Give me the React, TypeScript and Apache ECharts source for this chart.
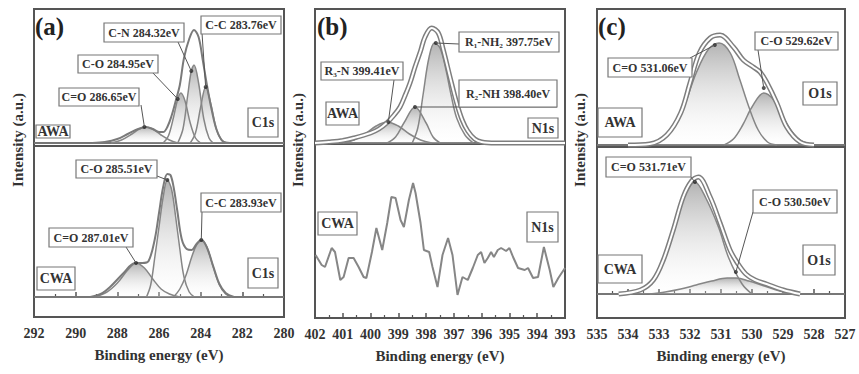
import React, { useEffect, useRef } from "react";
import * as echarts from "echarts";

type Pt = [number, number];

// ---------- axis ranges (binding energy, eV) ----------
const c1sRange: [number, number] = [280, 292];
const n1sRange: [number, number] = [393, 402];
const o1sRange: [number, number] = [527, 535];
const c1sInterval = 2;
const n1sInterval = 1;
const o1sInterval = 1;

// ---------- (a) C1s, AWA ----------
const c1sAwaEnvelope: Pt[] = [[289.2,0],[288.6,1],[288.0,4],[287.5,9],[287.0,14],[286.65,16],[286.3,14],[286.0,11],[285.8,11],[285.6,16],[285.4,27],[285.2,42],[285.0,58],[284.8,85],[284.55,104],[284.32,113],[284.1,106],[283.9,83],[283.7,58],[283.47,33],[283.23,13],[282.95,2],[282.6,0]];
const c1sAwaCdO: Pt[] = [[288.3,0],[287.8,3],[287.3,9],[286.95,14],[286.65,16],[286.3,14],[285.9,8],[285.5,3],[285.1,0]];
const c1sAwaCO: Pt[] = [[285.8,0],[285.55,7],[285.3,26],[285.1,44],[284.95,50],[284.75,42],[284.5,20],[284.25,5],[284.0,0]];
const c1sAwaCN: Pt[] = [[285.1,0],[284.85,14],[284.62,48],[284.45,72],[284.32,78],[284.1,60],[283.85,24],[283.6,5],[283.4,0]];
const c1sAwaCC: Pt[] = [[284.5,0],[284.25,10],[284.0,36],[283.76,56],[283.5,38],[283.25,14],[283.0,3],[282.75,0]];
const c1sAwaDots: Pt[] = [[286.7,16],[285.1,44],[284.45,72],[283.76,56]];

// ---------- (a) C1s, CWA ----------
const c1sCwaEnvelope: Pt[] = [[289.3,0],[288.8,3],[288.35,10],[287.7,24],[287.15,34],[286.8,34],[286.5,36],[286.2,58],[286.0,84],[285.8,110],[285.6,123],[285.45,122],[285.3,110],[285.12,86],[284.91,58],[284.67,48],[284.43,47],[284.2,53],[283.97,57],[283.71,50],[283.4,31],[283.1,13],[282.8,4],[282.4,0]];
const c1sCwaCdO: Pt[] = [[289.1,0],[288.5,5],[288.0,14],[287.5,27],[287.1,34],[286.7,29],[286.3,18],[285.9,8],[285.5,3],[285.0,0]];
const c1sCwaCO: Pt[] = [[286.6,0],[286.4,12],[286.2,40],[286.0,70],[285.8,100],[285.6,117],[285.4,108],[285.2,80],[285.0,48],[284.8,20],[284.55,5],[284.3,0]];
const c1sCwaCC: Pt[] = [[285.3,0],[285.0,8],[284.7,22],[284.43,40],[284.2,52],[283.95,57],[283.7,50],[283.4,30],[283.1,12],[282.8,3],[282.5,0]];
const c1sCwaDots: Pt[] = [[287.1,34],[285.6,117],[283.97,57]];

// ---------- (b) N1s, AWA ----------
const n1sAwaEnvelope: Pt[] = [[402,0],[401.5,1],[401.0,2.5],[400.6,5],[400.0,10],[399.7,14],[399.42,20],[399.15,28],[398.94,36],[398.75,48],[398.58,60],[398.4,76],[398.2,92],[398.04,106],[397.8,115],[397.56,110],[397.38,93],[397.14,66],[396.9,40],[396.7,23],[396.5,12],[396.25,4],[396.0,1],[395.5,0],[393,0]];
const n1sAwaR1: Pt[] = [[398.5,0],[398.3,15],[398.1,50],[397.9,85],[397.7,100],[397.5,95],[397.3,75],[397.1,48],[396.9,25],[396.6,8],[396.3,0]];
const n1sAwaR2: Pt[] = [[399.4,0],[399.1,6],[398.8,20],[398.4,36],[398.0,20],[397.75,6],[397.5,0]];
const n1sAwaR3: Pt[] = [[401.0,0],[400.6,3],[400.2,9],[399.8,17],[399.41,21],[399.0,17],[398.6,9],[398.2,3],[397.8,0]];
const n1sAwaDots: Pt[] = [[397.65,100],[398.4,36],[399.36,21]];

// ---------- (b) N1s, CWA (raw signal) ----------
const n1sCwaEnergy = [401.98,401.76,401.64,401.40,401.28,401.09,400.97,400.79,400.61,400.43,400.25,400.15,399.95,399.79,399.58,399.40,399.25,399.10,398.92,398.80,398.62,398.47,398.38,398.20,398.08,397.89,397.77,397.59,397.41,397.21,397.05,396.87,396.69,396.50,396.32,396.14,396.02,395.90,395.78,395.66,395.56,395.42,395.30,395.12,395.00,394.87,394.69,394.45,394.33,394.15,393.97,393.76,393.55,393.42,393.24,393.0];
const n1sCwaIntensity = [63,53,51,70,66,38,41,60,60,51,41,40,66,90,68,95,121,120,98,91,118,135,125,95,68,66,51,31,63,80,63,23,41,38,50,63,66,55,60,66,61,68,70,67,70,61,50,48,50,40,41,71,48,31,40,50];

// ---------- (c) O1s, AWA ----------
const o1sAwaEnvelope: Pt[] = [[534.0,0],[533.3,1],[532.75,10],[532.3,32],[532.0,62],[531.7,92],[531.35,107],[531.03,110],[530.6,98],[530.28,85],[529.96,78],[529.74,73],[529.53,63],[529.2,42],[528.88,18],[528.45,3],[528.0,0]];
const o1sAwaCdO: Pt[] = [[533.4,0],[533.0,4],[532.6,14],[532.2,38],[531.8,72],[531.4,96],[531.06,102],[530.7,92],[530.4,66],[530.1,38],[529.8,15],[529.5,3],[529.2,0]];
const o1sAwaCO: Pt[] = [[530.9,0],[530.6,6],[530.3,20],[530.0,38],[529.62,52],[529.3,45],[529.0,28],[528.7,13],[528.4,4],[528.0,0]];
const o1sAwaDots: Pt[] = [[531.2,100],[529.62,57]];

// ---------- (c) O1s, CWA ----------
const o1sCwaEnvelope: Pt[] = [[534.3,0],[533.6,4],[533.18,14],[532.86,34],[532.54,64],[532.22,97],[531.95,113],[531.73,117],[531.35,97],[531.03,71],[530.71,44],[530.49,32],[530.2,20],[529.9,14],[529.53,10],[528.99,4],[528.45,0]];
const o1sCwaCdO: Pt[] = [[534.2,0],[533.6,3],[533.2,12],[532.86,32],[532.54,62],[532.22,95],[531.84,112],[531.49,96],[531.07,66],[530.75,36],[530.32,10],[530.0,0]];
const o1sCwaCO: Pt[] = [[533.3,0],[532.8,2],[532.3,5],[531.8,9],[531.3,13],[530.8,16],[530.5,16],[530.1,13],[529.6,8],[529.1,3],[528.5,0]];
const o1sCwaDots: Pt[] = [[531.84,112],[530.52,22]];

const FONT = "'Liberation Serif', 'Times New Roman', serif";
const FRAME = "#555";
const CURVE = "#868686";

const grids = [
  { left: 34, top: 9, width: 250, height: 137 },
  { left: 34, top: 146, width: 250, height: 171 },
  { left: 315, top: 9, width: 250, height: 135 },
  { left: 315, top: 144, width: 250, height: 174 },
  { left: 597, top: 9, width: 248, height: 138 },
  { left: 597, top: 147, width: 248, height: 171 },
];
const yRanges: [number, number][] = [[-3, 134], [-20, 151], [-1, 134], [0, 174], [-2, 136], [-24, 147]];
const xRanges = [c1sRange, c1sRange, n1sRange, n1sRange, o1sRange, o1sRange];
const xIntervals = [c1sInterval, c1sInterval, n1sInterval, n1sInterval, o1sInterval, o1sInterval];

function areaGrad() {
  return new echarts.graphic.LinearGradient(0, 0, 0, 1, [
    { offset: 0, color: "rgba(110,110,110,0.75)" },
    { offset: 1, color: "rgba(255,255,255,0.15)" },
  ]);
}

function comp(data: Pt[], g: number) {
  return {
    type: "line", xAxisIndex: g, yAxisIndex: g, data, smooth: 0.35, symbol: "none",
    lineStyle: { color: CURVE, width: 1.5 }, areaStyle: { color: areaGrad() }, z: 2,
  };
}
function env(data: Pt[], g: number) {
  return {
    type: "line", xAxisIndex: g, yAxisIndex: g, data, smooth: 0.35, symbol: "none",
    lineStyle: { color: "#7a7a7a", width: 2 }, z: 3,
  };
}
function tube(data: Pt[], g: number) {
  return [
    { type: "line", xAxisIndex: g, yAxisIndex: g, data, smooth: 0.35, symbol: "none", lineStyle: { color: "#7e7e7e", width: 5 }, z: 3 },
    { type: "line", xAxisIndex: g, yAxisIndex: g, data, smooth: 0.35, symbol: "none", lineStyle: { color: "#ffffff", width: 2 }, z: 4 },
  ];
}
function baseline(g: number) {
  const r = xRanges[g];
  return {
    type: "line", xAxisIndex: g, yAxisIndex: g, data: [[r[0], 0], [r[1], 0]], symbol: "none",
    lineStyle: { color: "#777", width: 1.8 }, z: 1,
  };
}
function dots(data: Pt[], g: number) {
  return {
    type: "scatter", xAxisIndex: g, yAxisIndex: g, data, symbolSize: 4,
    itemStyle: { color: "#2a2a2a" }, z: 6,
  };
}

function box(x: number, y: number, w: number, h: number, text: string, fs = 12) {
  return {
    type: "group",
    children: [
      { type: "rect", z: 100, shape: { x, y, width: w, height: h }, style: { fill: "#fff", stroke: "#777", lineWidth: 1.2 } },
      { type: "text", z: 101, x: x + w / 2, y: y + h / 2, style: { text, font: `bold ${fs}px ${FONT}`, fill: "#333", align: "center", verticalAlign: "middle" } },
    ],
  };
}

// label boxes (pixel layout)
const boxes = [
  // (a) top
  [104, 23, 80, 19, "C-N 284.32eV"], [201, 16, 80, 18, "C-C 283.76eV"], [78, 55, 80, 18, "C-O 284.95eV"], [59, 88, 80, 18, "C=O 286.65eV"],
  [36, 125, 34, 13, "AWA"], [248, 108, 30, 29, "C1s"],
  // (a) bottom
  [76, 160, 81, 18, "C-O 285.51eV"], [201, 193, 80, 19, "C-C 283.93eV"], [49, 228, 84, 19, "C=O 287.01eV"],
  [37, 267, 38, 23, "CWA"], [248, 258, 30, 30, "C1s"],
  // (b) top
  [459, 32, 100, 20, "R\u2081-NH\u2082 397.75eV"], [321, 62, 82, 18, "R\u2083-N 399.41eV"], [459, 80, 98, 27, "R\u2082-NH 398.40eV"],
  [326, 102, 33, 23, "AWA"], [528, 118, 30, 20, "N1s"],
  // (b) bottom
  [318, 212, 39, 23, "CWA"], [527, 212, 31, 30, "N1s"],
  // (c) top
  [608, 58, 84, 19, "C=O 531.06eV"], [755, 32, 83, 18, "C-O 529.62eV"], [803, 82, 34, 23, "O1s"], [598, 108, 44, 29, "AWA"],
  // (c) bottom
  [606, 157, 85, 20, "C=O 531.71eV"], [753, 190, 84, 23, "C-O 530.50eV"], [598, 255, 44, 28, "CWA"], [803, 245, 32, 30, "O1s"],
] as [number, number, number, number, string][];

// [grid, dot data, dot index, anchor x, anchor y]
const pointers: [number, Pt[], number, number, number][] = [
  [0, c1sAwaDots, 0, 141, 105], [0, c1sAwaDots, 1, 152, 72], [0, c1sAwaDots, 2, 178, 42], [0, c1sAwaDots, 3, 202, 33],
  [1, c1sCwaDots, 0, 126, 247], [1, c1sCwaDots, 1, 157, 176], [1, c1sCwaDots, 2, 202, 212],
  [2, n1sAwaDots, 0, 459, 44], [2, n1sAwaDots, 1, 557, 107], [2, n1sAwaDots, 2, 394, 80],
  [4, o1sAwaDots, 0, 690, 58], [4, o1sAwaDots, 1, 758, 50],
  [5, o1sCwaDots, 0, 690, 176], [5, o1sCwaDots, 1, 753, 212],
];

export default function App() {
  const ref = useRef<HTMLDivElement>(null);
  useEffect(() => {
    if (!ref.current) return;
    const chart = echarts.init(ref.current, undefined, { renderer: "svg" });

    const xAxis = grids.map((_, i) => {
      const bottom = i % 2 === 1;
      return {
        type: "value", gridIndex: i, min: xRanges[i][0], max: xRanges[i][1], interval: xIntervals[i], inverse: true,
        axisLine: { show: bottom, lineStyle: { color: FRAME, width: 2 } },
        splitLine: { show: false },
        axisTick: { show: bottom, inside: true, length: 5, lineStyle: { color: FRAME, width: 1.5 } },
        minorTick: { show: bottom, splitNumber: 2, length: 3, lineStyle: { color: FRAME, width: 1.2 } },
        axisLabel: { show: bottom, margin: 9, color: "#333", fontFamily: FONT, fontWeight: "bold", fontSize: 14 },
        name: bottom ? "Binding energy (eV)" : "",
        nameLocation: "middle", nameGap: 30,
        nameTextStyle: { color: "#333", fontFamily: FONT, fontWeight: "bold", fontSize: 15 },
      };
    });
    const yAxis = grids.map((_, i) => ({
      type: "value", gridIndex: i, min: yRanges[i][0], max: yRanges[i][1], show: false,
    }));

    const series: any[] = [
      baseline(0), comp(c1sAwaCdO, 0), comp(c1sAwaCO, 0), comp(c1sAwaCN, 0), comp(c1sAwaCC, 0), env(c1sAwaEnvelope, 0), dots(c1sAwaDots, 0),
      baseline(1), comp(c1sCwaCdO, 1), comp(c1sCwaCO, 1), comp(c1sCwaCC, 1), env(c1sCwaEnvelope, 1), dots(c1sCwaDots, 1),
      baseline(2), comp(n1sAwaR3, 2), comp(n1sAwaR2, 2), comp(n1sAwaR1, 2), ...tube(n1sAwaEnvelope, 2), dots(n1sAwaDots, 2),
      {
        type: "line", xAxisIndex: 3, yAxisIndex: 3, symbol: "none",
        data: n1sCwaEnergy.map((e, k) => [e, n1sCwaIntensity[k]]),
        lineStyle: { color: CURVE, width: 2 }, z: 3,
      },
      baseline(4), comp(o1sAwaCdO, 4), comp(o1sAwaCO, 4), ...tube(o1sAwaEnvelope, 4), dots(o1sAwaDots, 4),
      baseline(5), comp(o1sCwaCdO, 5), comp(o1sCwaCO, 5), ...tube(o1sCwaEnvelope, 5), dots(o1sCwaDots, 5),
    ];

    chart.setOption({
      animation: false,
      backgroundColor: "#fff",
      grid: grids.map((g) => ({ ...g, show: true, borderColor: FRAME, borderWidth: 2, backgroundColor: "transparent" })),
      xAxis, yAxis, series,
    });

    const lines = pointers.map(([g, arr, idx, ax, ay]) => {
      const p = chart.convertToPixel({ gridIndex: g } as any, arr[idx]) as number[];
      return { type: "line", z: 99, shape: { x1: ax, y1: ay, x2: p[0], y2: p[1] }, style: { stroke: "#555", lineWidth: 1 } };
    });
    const boxEls = boxes.map(([x, y, w, h, t]) => box(x, y, w, h, t, t.length > 4 ? 12 : 14));
    const letters = [["(a)", 35], ["(b)", 317], ["(c)", 598]].map(([t, x]) => ({
      type: "text", z: 101, x: x as number, y: 14,
      style: { text: t as string, font: `bold 25px ${FONT}`, fill: "#222", align: "left", verticalAlign: "top" },
    }));
    const ylabels = [18, 298, 580].map((x) => ({
      type: "text", z: 101, x, y: 140, rotation: Math.PI / 2,
      style: { text: "Intensity (a.u.)", font: `bold 15px ${FONT}`, fill: "#333", align: "center", verticalAlign: "middle" },
    }));

    chart.setOption({ graphic: [...lines, ...boxEls, ...letters, ...ylabels] });

    return () => chart.dispose();
  }, []);
  return <div ref={ref} style={{ width: 859, height: 374, position: "absolute", left: 0, top: 0 }} />;
}
